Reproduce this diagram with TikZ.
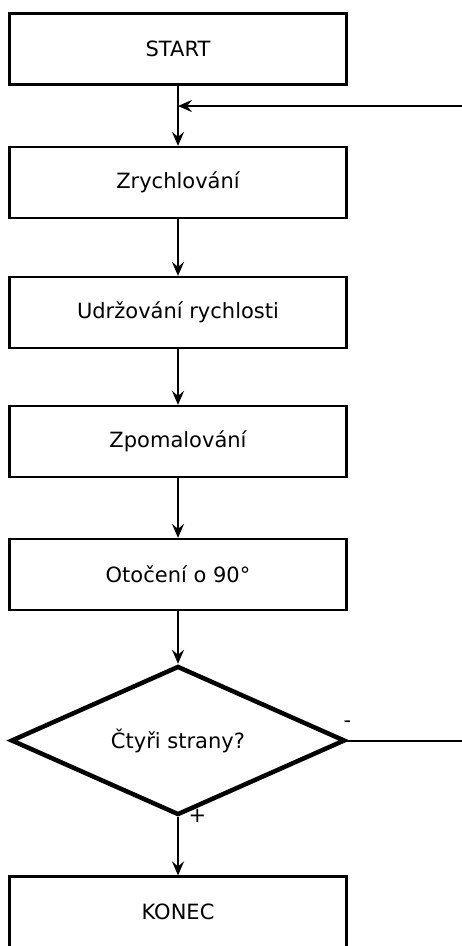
\documentclass[tikz,border=0pt]{standalone}
\usepackage{fontspec}
\setmainfont{DejaVu Sans}
\usetikzlibrary{shapes.geometric,arrows.meta}
\begin{document}
\begin{tikzpicture}[x=1pt,y=-1pt,
  box/.style={draw,line width=2.2pt,minimum width=337pt,minimum height=71pt,inner sep=0pt,font=\fontsize{21}{25}\selectfont},
  decis/.style={draw,diamond,line width=4.5pt,minimum width=334pt,minimum height=149pt,aspect=2.24,inner sep=0pt,font=\fontsize{21}{25}\selectfont},
  conn/.style={line width=2pt,-{Stealth[length=14pt,width=12pt,inset=5pt]}},
  plain/.style={line width=2pt},
  lbl/.style={font=\fontsize{21}{24}\selectfont,inner sep=0pt}]
\clip (0,0) rectangle (462,946);
\fill[white] (0,0) rectangle (462,946);
\node[box] (start) at (178,49) {START};
\node[box] (zr) at (178,182.5) {Zrychlování};
\node[box] (ud) at (178,312.5) {Udržování rychlosti};
\node[box] (zp) at (178,441.5) {Zpomalování};
\node[box] (ot) at (178,574.5) {Otočení o 90°};
\node[decis] (ct) at (178,740.5) {Čtyři strany?};
\node[box] (konec) at (178,912) {KONEC};
\coordinate (fb) at (462,106);
\coordinate (j) at (178,106);
\coordinate (fe) at (462,740.5);
\draw[conn] (start) -- (zr);
\draw[conn] (fb) -- (j);
\draw[conn] (zr) -- (ud);
\draw[conn] (ud) -- (zp);
\draw[conn] (zp) -- (ot);
\draw[conn] (ot) -- (ct);
\draw[conn] (ct) -- (konec);
\draw[plain] (ct.east) -- (fe);
\node[lbl] (minus) at (347.5,724) {-};
\node[lbl] (plus) at (197.5,816) {+};
\end{tikzpicture}
\end{document}
